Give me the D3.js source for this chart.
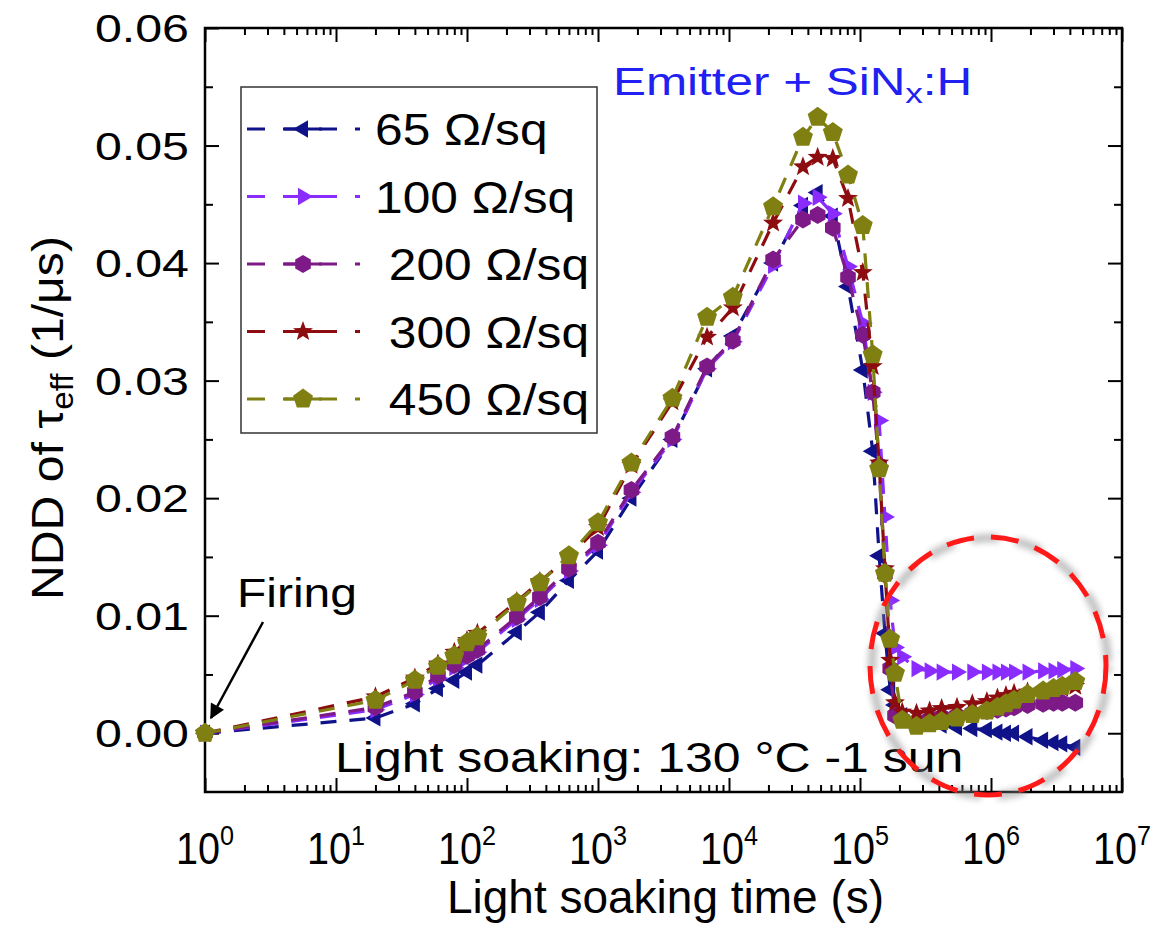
<!DOCTYPE html>
<html><head><meta charset="utf-8">
<script src="https://cdn.jsdelivr.net/npm/d3@7"></script>
<style>
html,body{margin:0;padding:0;background:#fff;}
svg{display:block;font-family:"Liberation Sans",Arial,sans-serif;}
</style></head><body>
<svg id="chart" width="1165" height="943"></svg>
<script>
// Light soaking time (s)
const times = [1, 20, 40, 60, 80, 100, 120, 240, 360, 600, 1000, 1800, 3700, 6800, 10700,
  21700, 36700, 47500, 62000, 81000, 105000, 125000, 140000, 155000, 170000, 185000, 210000,
  270000, 340000, 420000, 550000, 720000, 930000, 1120000, 1300000, 1500000, 1900000,
  2500000, 3000000, 3500000, 4400000];

// NDD of tau_eff (1/us) for each emitter sheet resistance
const ndd65 = [0, 0.0013, 0.0025, 0.0038, 0.0045, 0.0052, 0.0058, 0.0086, 0.0103, 0.0130, 0.0155,
  0.0200, 0.0250, 0.0310, 0.0338, 0.0400, 0.0449, 0.0460, 0.0440, 0.0380, 0.0309, 0.0240, 0.0151,
  0.0085, 0.0037, 0.0024, 0.0015, 0.0011, 0.0009, 0.0007, 0.0005, 0.0004, 0.0003, 0.0001, 0.0000,
  0.0000, -0.0003, -0.0006, -0.0008, -0.0009, -0.0012];
const ndd100 = [0, 0.0020, 0.0033, 0.0047, 0.0056, 0.0064, 0.0069, 0.0097, 0.0114, 0.0138, 0.0160,
  0.0205, 0.0250, 0.0310, 0.0333, 0.0398, 0.0451, 0.0456, 0.0442, 0.0397, 0.0349, 0.0290, 0.0266,
  0.0184, 0.0113, 0.0073, 0.0065, 0.0055, 0.0053, 0.0052, 0.0052, 0.0052, 0.0052, 0.0052, 0.0052,
  0.0052, 0.0052, 0.0053, 0.0053, 0.0054, 0.0055];
const ndd200 = [0, 0.0022, 0.0035, 0.0049, 0.0058, 0.0066, 0.0071, 0.0099, 0.0116, 0.0140, 0.0162,
  0.0207, 0.0252, 0.0312, 0.0334, 0.0403, 0.0437, 0.0441, 0.0430, 0.0388, 0.0339, 0.0290, 0.0228,
  0.0135, 0.0055, 0.0015, 0.0012, 0.0010, 0.0012, 0.0014, 0.0015, 0.0017, 0.0019, 0.0020, 0.0021,
  0.0022, 0.0024, 0.0025, 0.0026, 0.0026, 0.0026];
const ndd300 = [0, 0.0031, 0.0047, 0.0059, 0.0069, 0.0079, 0.0085, 0.0112, 0.0129, 0.0150, 0.0175,
  0.0228, 0.0282, 0.0337, 0.0362, 0.0434, 0.0482, 0.0490, 0.0489, 0.0455, 0.0392, 0.0312, 0.0230,
  0.0140, 0.0062, 0.0026, 0.0018, 0.0017, 0.0019, 0.0021, 0.0022, 0.0025, 0.0027, 0.0030, 0.0032,
  0.0034, 0.0035, 0.0036, 0.0037, 0.0038, 0.0040];
const ndd450 = [0, 0.0028, 0.0045, 0.0057, 0.0066, 0.0077, 0.0082, 0.0111, 0.0128, 0.0151, 0.0179,
  0.0230, 0.0285, 0.0354, 0.0371, 0.0448, 0.0507, 0.0524, 0.0511, 0.0475, 0.0432, 0.0322, 0.0225,
  0.0136, 0.0080, 0.0051, 0.0011, 0.0006, 0.0008, 0.0010, 0.0013, 0.0016, 0.0019, 0.0022, 0.0025,
  0.0028, 0.0033, 0.0036, 0.0038, 0.0040, 0.0044];

const seriesLabels = ["65 \u03A9/sq", "100 \u03A9/sq", " 200 \u03A9/sq", " 300 \u03A9/sq", " 450 \u03A9/sq"];
const xTickExponents = [0, 1, 2, 3, 4, 5, 6, 7];
const yTickLabels = ["0.00", "0.01", "0.02", "0.03", "0.04", "0.05", "0.06"];

// ---- styling ----
const seriesValues = [ndd65, ndd100, ndd200, ndd300, ndd450];
const seriesColors = ["#10128a", "#8b2cff", "#7e1a88", "#8c0c10", "#7f7f12"];
const seriesShapes = ["triLeft", "triRight", "hexagon", "star", "pentagon"];

const svg = d3.select("#chart");
const plot = {l: 205, r: 1122, t: 28, b: 792};
const x = d3.scaleLog().domain([1, 1e7]).range([plot.l, plot.r]);
const y = d3.scaleLinear().domain([-0.005, 0.06]).range([plot.b, plot.t]);

// marker shapes as d3 symbol types; size = (2r)^2
function polygonType(n, a0, inner) {
  return {
    draw(ctx, size) {
      const r = Math.sqrt(size) / 2;
      const pts = inner ? 2 * n : n;
      for (let k = 0; k < pts; k++) {
        const a = a0 + k * 2 * Math.PI / pts;
        const rr = inner && (k % 2 === 1) ? r * inner : r;
        const px = rr * Math.cos(a), py = rr * Math.sin(a);
        if (k === 0) ctx.moveTo(px, py); else ctx.lineTo(px, py);
      }
      ctx.closePath();
    }
  };
}
const shapeTypes = {
  triLeft: {type: polygonType(3, Math.PI), r: 10},
  triRight: {type: polygonType(3, 0), r: 10},
  hexagon: {type: polygonType(6, -Math.PI / 2), r: 9},
  star: {type: polygonType(5, -Math.PI / 2, 0.42), r: 10.5},
  pentagon: {type: polygonType(5, -Math.PI / 2), r: 10.5}
};
function symbolPath(name) {
  const s = shapeTypes[name];
  return d3.symbol().type(s.type).size((2 * s.r) * (2 * s.r))();
}

// ---- frame & axes ----
const majorX = xTickExponents.map(e => Math.pow(10, e));
const minorX = [];
xTickExponents.slice(0, -1).forEach(e => { for (let m = 2; m <= 9; m++) minorX.push(m * Math.pow(10, e)); });
const majorY = yTickLabels.map(Number);
const minorY = majorY.slice(0, -1).map(v => v + 0.005);

function tickLayer(gen, tr) {
  const g = svg.append("g").attr("transform", tr).call(gen);
  g.select(".domain").remove();
  g.selectAll("text").remove();
  g.selectAll("line").attr("stroke", "#000").attr("stroke-width", 2);
}
tickLayer(d3.axisBottom(x).tickValues(majorX).tickSize(-14), `translate(0,${plot.b})`);
tickLayer(d3.axisBottom(x).tickValues(minorX).tickSize(-7), `translate(0,${plot.b})`);
tickLayer(d3.axisTop(x).tickValues(majorX).tickSize(-14), `translate(0,${plot.t})`);
tickLayer(d3.axisTop(x).tickValues(minorX).tickSize(-7), `translate(0,${plot.t})`);
tickLayer(d3.axisLeft(y).tickValues(majorY).tickSize(-14), `translate(${plot.l},0)`);
tickLayer(d3.axisLeft(y).tickValues(minorY).tickSize(-8), `translate(${plot.l},0)`);
tickLayer(d3.axisRight(y).tickValues(majorY).tickSize(-14), `translate(${plot.r},0)`);
tickLayer(d3.axisRight(y).tickValues(minorY).tickSize(-8), `translate(${plot.r},0)`);

svg.append("rect")
  .attr("x", plot.l).attr("y", plot.t)
  .attr("width", plot.r - plot.l).attr("height", plot.b - plot.t)
  .attr("fill", "none").attr("stroke", "#000").attr("stroke-width", 2.5);

// x tick labels 10^n
xTickExponents.forEach(e => {
  const t = svg.append("g")
    .attr("transform", `translate(${x(Math.pow(10, e))},864) scale(0.9,1)`)
    .append("text").attr("text-anchor", "middle").attr("font-size", 44).attr("fill", "#000");
  t.append("tspan").text("10");
  t.append("tspan").attr("font-size", 28).attr("dy", -19).text(e);
});

// y tick labels
yTickLabels.forEach(lbl => {
  svg.append("g")
    .attr("transform", `translate(189,${y(+lbl) + 14}) scale(1.24,1)`)
    .append("text").attr("text-anchor", "end").attr("font-size", 39).attr("fill", "#000")
    .text(lbl);
});

// axis titles
svg.append("text")
  .attr("x", (plot.l + plot.r) / 2 + 2).attr("y", 913)
  .attr("text-anchor", "middle").attr("font-size", 46).attr("fill", "#000")
  .text("Light soaking time (s)");

const yTitle = svg.append("g")
  .attr("transform", "translate(63,418) rotate(-90) scale(1.07,1)")
  .append("text").attr("text-anchor", "middle").attr("font-size", 45).attr("fill", "#000");
yTitle.append("tspan").text("NDD of \u03C4");
yTitle.append("tspan").attr("font-size", 31).attr("dy", 10).text("eff");
yTitle.append("tspan").attr("dy", -10).text(" (1/\u03BCs)");

// ---- series ----
const line = d3.line().x(d => x(d[0])).y(d => y(d[1]));
seriesValues.forEach((vals, i) => {
  const pts = times.map((t, j) => [t, vals[j]]);
  svg.append("path").datum(pts)
    .attr("d", line)
    .attr("fill", "none").attr("stroke", seriesColors[i])
    .attr("stroke-width", 3.2).attr("stroke-dasharray", "16,13");
  svg.append("g").selectAll("path").data(pts).join("path")
    .attr("transform", d => `translate(${x(d[0])},${y(d[1])})`)
    .attr("d", symbolPath(seriesShapes[i]))
    .attr("fill", seriesColors[i]);
});

// ---- legend ----
const legend = svg.append("g");
legend.append("rect").attr("x", 241).attr("y", 87).attr("width", 356).attr("height", 346)
  .attr("fill", "#fff").attr("stroke", "#333").attr("stroke-width", 1.5);
const legendRowY = d3.scalePoint().domain(d3.range(seriesLabels.length)).range([129, 399]);
seriesLabels.forEach((lbl, i) => {
  const cy = legendRowY(i);
  legend.append("line").attr("x1", 247).attr("x2", 360).attr("y1", cy).attr("y2", cy)
    .attr("stroke", seriesColors[i]).attr("stroke-width", 3.2).attr("stroke-dasharray", "18,18");
  legend.append("line").attr("x1", 284).attr("x2", 322).attr("y1", cy).attr("y2", cy)
    .attr("stroke", seriesColors[i]).attr("stroke-width", 3.2);
  legend.append("path").attr("transform", `translate(303,${cy})`)
    .attr("d", symbolPath(seriesShapes[i])).attr("fill", seriesColors[i]);
  legend.append("g").attr("transform", `translate(375,${cy + 16}) scale(1.13,1)`)
    .append("text").attr("font-size", 44).attr("fill", "#000")
    .style("white-space", "pre").text(lbl);
});

// ---- annotations ----
svg.append("g").attr("transform", "translate(613,95) scale(1.3,1)")
  .append("text").attr("font-size", 38).attr("fill", "#2020f2")
  .call(t => {
    t.append("tspan").text("Emitter + SiN");
    t.append("tspan").attr("font-size", 27).attr("dy", 8).text("x");
    t.append("tspan").attr("dy", -8).text(":H");
  });

svg.append("g").attr("transform", "translate(237,607) scale(1.2,1)")
  .append("text").attr("font-size", 40).attr("fill", "#000").text("Firing");

svg.append("g").attr("transform", "translate(335,772) scale(1.19,1)")
  .append("text").attr("font-size", 42).attr("fill", "#000").text("Light soaking: 130 \u00B0C -1 sun");

const defs = svg.append("defs");
defs.append("marker").attr("id", "arrowHead").attr("viewBox", "0 0 10 10")
  .attr("refX", 9).attr("refY", 5).attr("markerWidth", 8).attr("markerHeight", 6)
  .attr("markerUnits", "strokeWidth").attr("orient", "auto")
  .append("path").attr("d", "M0,0 L10,5 L0,10 z").attr("fill", "#000");
defs.append("filter").attr("id", "haze").attr("x", "-20%").attr("y", "-20%")
  .attr("width", "140%").attr("height", "140%")
  .append("feGaussianBlur").attr("stdDeviation", 3);

svg.append("line").attr("x1", 263).attr("y1", 622).attr("x2", 211).attr("y2", 718)
  .attr("stroke", "#000").attr("stroke-width", 2.5).attr("marker-end", "url(#arrowHead)");

// highlight ring around the long-term region
svg.append("ellipse").attr("cx", 990).attr("cy", 667).attr("rx", 118).attr("ry", 129)
  .attr("fill", "none").attr("stroke", "#8a8a8a").attr("stroke-width", 8).attr("opacity", 0.55)
  .attr("stroke-dasharray", "28,17").attr("stroke-dashoffset", 22).attr("filter", "url(#haze)");
svg.append("ellipse").attr("cx", 988).attr("cy", 666).attr("rx", 118).attr("ry", 129)
  .attr("fill", "none").attr("stroke", "#ff1a1a").attr("stroke-width", 5)
  .attr("stroke-dasharray", "28,17");
</script>
</body></html>
